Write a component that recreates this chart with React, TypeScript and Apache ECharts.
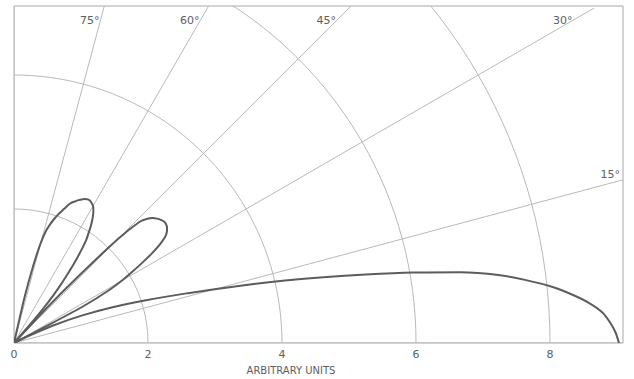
import React, { useEffect, useRef } from "react";
import * as echarts from "echarts";

// ---- data (elevation angle in degrees, field in arbitrary units) ----
const radiusTickLabels = [0, 2, 4, 6, 8];
const angleLabelValues = [15, 30, 45, 60, 75];
const axisTitle = "ARBITRARY UNITS";

const lobe1Angles = [0, 1, 2, 3, 4, 5, 6, 7, 8, 9, 10, 11, 12, 13, 14, 15, 16, 18, 20, 22, 24, 26, 27];
const lobe1Radii = [9.03, 8.98, 8.9, 8.79, 8.6, 8.35, 8.06, 7.7, 7.3, 6.75, 6.05, 5.35, 4.72, 4.15, 3.6, 3.1, 2.7, 2.05, 1.55, 1.1, 0.65, 0.2, 0];

const lobe2Angles = [27, 27.5, 28, 29, 30, 31, 32, 33, 34, 35, 36, 37, 38, 39, 40, 41, 42, 43, 44, 45, 46, 47, 48];
const lobe2Radii = [0, 0.6, 1.2, 1.6, 1.85, 2.05, 2.25, 2.45, 2.62, 2.75, 2.82, 2.86, 2.88, 2.88, 2.86, 2.83, 2.79, 2.72, 2.6, 2.2, 1.4, 0.7, 0];

const lobe3Angles = [48, 49, 50, 51, 52, 53, 54, 55, 56, 57, 58, 59, 60, 61, 62, 63, 64, 65, 66, 67, 68, 69, 70, 71, 72, 73, 74, 75, 76, 77, 78];
const lobe3Radii = [0, 0.45, 0.8, 1.05, 1.27, 1.5, 1.7, 1.88, 2.0, 2.12, 2.22, 2.3, 2.36, 2.39, 2.41, 2.41, 2.39, 2.36, 2.33, 2.29, 2.25, 2.18, 2.1, 2.03, 1.95, 1.86, 1.75, 1.55, 1.2, 0.7, 0];

// ---- layout ----
const W = 634;
const H = 379;
const OX = 14; // origin x (page)
const OY = 343; // origin y (page)
const FRAME_TOP = 6;
const FRAME_RIGHT = 623;
const SCALE = 67; // px per unit
const RMAX = 10;

const GRID_COLOR = "#b9b9b9";
const CURVE_COLOR = "#5c5c5c";
const TEXT_COLOR = "#5e5e5e";
const FONT = "DejaVu Sans";

function toPolar(angles: number[], radii: number[]) {
  return angles.map((a, i) => [radii[i], a]);
}

export default function App() {
  const outerRef = useRef<HTMLDivElement>(null);
  const innerRef = useRef<HTMLDivElement>(null);

  useEffect(() => {
    if (!outerRef.current || !innerRef.current) return;
    const outer = echarts.init(outerRef.current, undefined, { renderer: "svg" });
    const inner = echarts.init(innerRef.current, undefined, { renderer: "svg" });

    const innerW = FRAME_RIGHT - OX;
    const innerH = OY - FRAME_TOP;

    // angle labels: at the top edge for steep rays, on the right edge for 15 deg
    const angleTexts = angleLabelValues.map((a) => {
      const t = Math.tan((a * Math.PI) / 180);
      if (a >= 30) {
        const y = FRAME_TOP + 14;
        const x = OX + (OY - y) / t;
        return {
          type: "text",
          x: x - 1,
          y,
          style: { text: a + "°", fill: TEXT_COLOR, fontSize: 11, fontFamily: FONT, align: "right", verticalAlign: "middle" },
        };
      }
      const x = FRAME_RIGHT - 3;
      const y = OY - (x - OX) * t - 6;
      return {
        type: "text",
        x,
        y,
        style: { text: a + "°", fill: TEXT_COLOR, fontSize: 11, fontFamily: FONT, align: "right", verticalAlign: "middle" },
      };
    });

    outer.setOption({
      animation: false,
      backgroundColor: "#fff",
      grid: { left: OX, top: 100, width: 9 * SCALE, height: OY - 100 },
      xAxis: {
        type: "value",
        min: 0,
        max: 9,
        interval: 2,
        axisLine: { show: false },
        axisTick: { show: false },
        splitLine: { show: false },
        axisLabel: { showMaxLabel: false, color: TEXT_COLOR, fontSize: 11, fontFamily: FONT, margin: 6 },
      },
      yAxis: { type: "value", show: false, min: 0, max: 1 },
      series: [],
      graphic: [
        {
          type: "rect",
          shape: { x: OX, y: FRAME_TOP, width: innerW, height: innerH },
          style: { fill: "none", stroke: "#a8a8a8", lineWidth: 1 },
        },
        {
          type: "text",
          x: 291,
          y: 370,
          style: { text: axisTitle, fill: TEXT_COLOR, fontSize: 10, fontFamily: FONT, align: "center", verticalAlign: "middle" },
        },
        ...angleTexts,
      ],
    });

    const curveSeries = (name: string, data: number[][]) => ({
      name,
      type: "line",
      coordinateSystem: "polar",
      data,
      showSymbol: false,
      smooth: 0.2,
      lineStyle: { color: CURVE_COLOR, width: 2 },
      clip: false,
    });

    inner.setOption({
      animation: false,
      polar: { center: [0, innerH], radius: SCALE * RMAX },
      angleAxis: {
        type: "value",
        min: 0,
        max: 360,
        interval: 15,
        startAngle: 0,
        clockwise: false,
        axisLine: { show: false },
        axisTick: { show: false },
        axisLabel: { show: false },
        splitLine: { show: true, lineStyle: { color: GRID_COLOR, width: 1 } },
      },
      radiusAxis: {
        type: "value",
        min: 0,
        max: RMAX,
        interval: 2,
        axisLine: { show: false },
        axisTick: { show: false },
        axisLabel: { show: false },
        splitLine: {
          show: true,
          lineStyle: { color: [GRID_COLOR, GRID_COLOR, GRID_COLOR, GRID_COLOR, GRID_COLOR, "rgba(0,0,0,0)"], width: 1 },
        },
      },
      series: [
        curveSeries("lobe1", toPolar(lobe1Angles, lobe1Radii)),
        curveSeries("lobe2", toPolar(lobe2Angles, lobe2Radii)),
        curveSeries("lobe3", toPolar(lobe3Angles, lobe3Radii)),
      ],
    });

    return () => {
      inner.dispose();
      outer.dispose();
    };
  }, []);

  return (
    <div style={{ position: "fixed", left: 0, top: 0, width: W, height: H, background: "#fff" }}>
      <div ref={outerRef} style={{ position: "absolute", left: 0, top: 0, width: W, height: H }} />
      <div
        ref={innerRef}
        style={{ position: "absolute", left: OX, top: FRAME_TOP, width: FRAME_RIGHT - OX, height: OY - FRAME_TOP, overflow: "hidden" }}
      />
    </div>
  );
}
